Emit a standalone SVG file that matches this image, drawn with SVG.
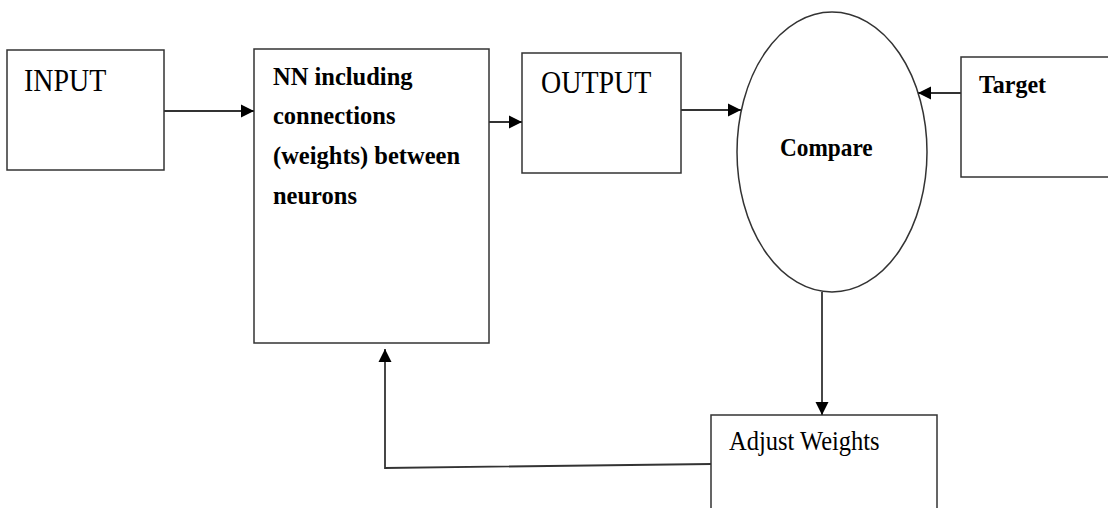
<svg xmlns="http://www.w3.org/2000/svg" width="1108" height="508" viewBox="0 0 1108 508">
  <style>
    .box { fill: #ffffff; stroke: #333333; stroke-width: 1.5; }
    .conn { fill: none; stroke: #333333; stroke-width: 1.8; }
    .reg { font-family: "Liberation Serif", "Times New Roman", serif; fill: #000000; }
    .bold { font-family: "Liberation Serif", "Times New Roman", serif; font-weight: bold; fill: #000000; }
  </style>
  <defs>
    <marker id="arrow" markerUnits="userSpaceOnUse" markerWidth="14" markerHeight="14" refX="13" refY="7" orient="auto">
      <path d="M0,0.5 L13,7 L0,13.5 Z" fill="#000000"/>
    </marker>
  </defs>
  <rect width="1108" height="508" fill="#ffffff"/>

  <g id="input">
    <rect class="box" x="7" y="50" width="157" height="120"/>
    <text class="reg" font-size="28" transform="translate(24,91) scale(1,1.12)">INPUT</text>
  </g>

  <g id="nn">
    <rect class="box" x="254" y="49" width="235" height="294"/>
    <text class="bold" font-size="24.5" transform="translate(273,85) scale(1,1.05)">NN including</text>
    <text class="bold" font-size="24.5" transform="translate(273,124) scale(1,1.05)">connections</text>
    <text class="bold" font-size="24.5" transform="translate(273,164) scale(1,1.05)">(weights) between</text>
    <text class="bold" font-size="24.5" transform="translate(273,204) scale(1,1.05)">neurons</text>
  </g>

  <g id="output">
    <rect class="box" x="522" y="53" width="159" height="120"/>
    <text class="reg" font-size="28" transform="translate(541,93) scale(1,1.12)">OUTPUT</text>
  </g>

  <g id="compare">
    <ellipse class="box" cx="832" cy="152" rx="95" ry="140"/>
    <text class="bold" font-size="23.3" transform="translate(780,156) scale(1,1.05)">Compare</text>
  </g>

  <g id="target">
    <rect class="box" x="961" y="57" width="160" height="120"/>
    <text class="bold" font-size="24" transform="translate(979,93) scale(1,1.05)">Target</text>
  </g>

  <g id="adjust">
    <rect class="box" x="711" y="415" width="226" height="110"/>
    <text class="reg" font-size="24.5" transform="translate(729,450) scale(1,1.08)">Adjust Weights</text>
  </g>

  <g id="connectors">
    <path class="conn" d="M164,111 H254" marker-end="url(#arrow)"/>
    <path class="conn" d="M489,122 H522" marker-end="url(#arrow)"/>
    <path class="conn" d="M681,110 H741" marker-end="url(#arrow)"/>
    <path class="conn" d="M961,93 H918" marker-end="url(#arrow)"/>
    <path class="conn" d="M822,292 V415" marker-end="url(#arrow)"/>
    <path class="conn" d="M711,464 L385,468 V349" marker-end="url(#arrow)"/>
  </g>
</svg>
